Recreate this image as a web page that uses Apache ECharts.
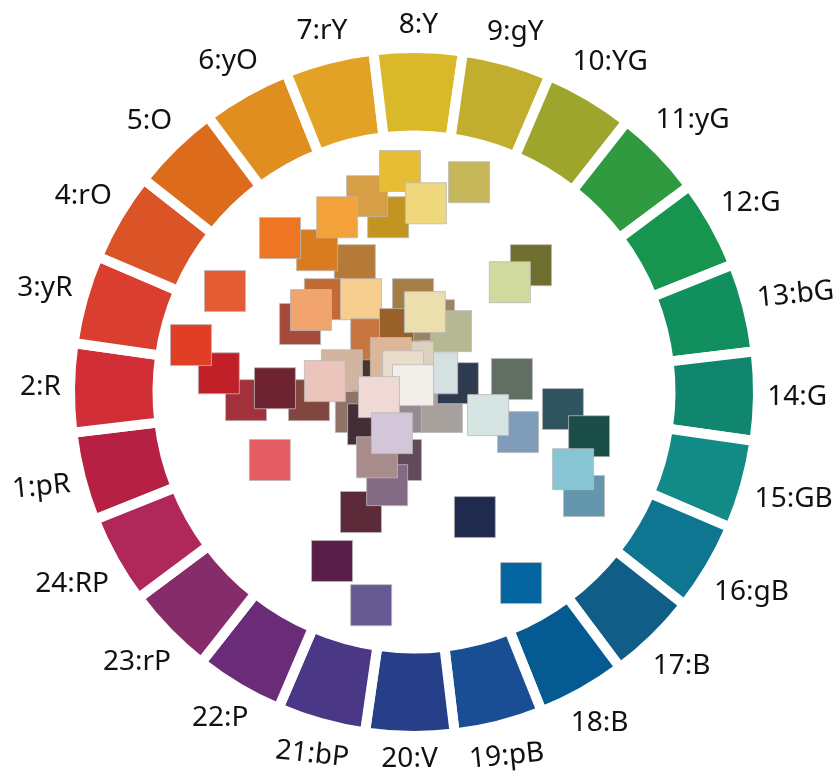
<!DOCTYPE html>
<html><head><meta charset="utf-8">
<script src="https://cdn.jsdelivr.net/npm/echarts@6/dist/echarts.min.js"></script>
<style>html,body{margin:0;padding:0;background:#fff}#c{width:834px;height:778px}</style>
</head><body><div id="c"></div>
<script>
// Hue ring segments
const segNames = ['1:pR','2:R','3:yR','4:rO','5:O','6:yO','7:rY','8:Y','9:gY','10:YG','11:yG','12:G',
  '13:bG','14:G','15:GB','16:gB','17:B','18:B','19:pB','20:V','21:bP','22:P','23:rP','24:RP'];
const segColors = ['#B62042','#D12E37','#D93E2F','#DA5427','#DC6C1C','#E08E20','#E2A225','#D9B82A',
  '#C2AE2E','#9DA52C','#2F9A40','#17954E','#128F5F','#11866F','#128B87','#0F7691','#105E87','#055B91',
  '#1A4E94','#273F89','#4A3785','#6A2B79','#862C6A','#B0285A'];
const segValues = [1,1,1,1,1,1,1,1,1,1,1,1,1,1,1,1,1,1,1,1,1,1,1,1];

// Colour samples (plane coordinates, ring outer radius = 100)
const squareX = [-12.4,-17.4,-28.5,-39.4,-7.6,-13.8,-22.6,-4.1,3.5,16.2,
  -26.2,-15.6,-33.5,-30.3,-55.6,
  -0.3,-12.6,-4.1,5.9,10.9,3.2,
  -17.1,-3.5,8.2,12.9,6.8,-0.3,-6.8,-21.2,-3.2,-0.3,-13.5,-10.3,-3.8,-15.6,-7.9,-10.9,-6.5,-30.9,-26.2,
  -49.4,-57.4,-65.6,-40.9,-42.4,
  34.4,28.2,28.8,30.6,21.8,43.8,51.5,50.0,46.8,17.9,-24.1,-12.6,31.5];
const squareY = [5.8,37.3,41.7,45.3,51.4,57.6,51.4,65.0,55.5,61.7,
  27.3,27.3,20.0,24.1,29.7,
  27.3,15.5,18.5,21.1,17.9,23.5,
  -5.9,-5.9,-5.9,2.6,5.5,8.8,10.0,6.4,6.1,2.0,-9.5,-1.5,-20.0,-35.3,-27.4,-19.2,-12.1,-2.4,3.2,
  -2.4,5.5,13.8,1.1,-20.0,
  37.3,32.3,3.8,-11.8,-6.8,-5.0,-13.0,-30.6,-22.7,-36.8,-49.7,-62.7,-56.2];
const squareColors = ['#4A3328','#B57A38','#D97B1F','#EE7623','#C1951F','#D69E45','#F3A13A','#E5BE36','#EFD77E','#C6B85A',
  '#C36A35','#F7CE90','#A84A3A','#F2A46E','#E55C34',
  '#A47E47','#C87641','#98612A','#9A8462','#B6B893','#EBDFAE',
  '#8E7369','#968B92','#A7A19E','#2E3A50','#D5E0E0','#DDD2C0','#DDB69A','#D3B4A0','#EADCCB','#F2EEE9','#452D38','#EFD9D4','#624A5A','#5C2A38','#846B84','#A88C8C','#D3C6D8','#81473F','#EBC4BB',
  '#A3313C','#C22029','#E03F26','#6E2430','#E45C64',
  '#6E6E2F','#D0D99E','#606E64','#7F9DB9','#D6E4E2','#30545F','#1A4D48','#6497AE','#87C4D4','#202A4E','#5A1F48','#675A93','#0565A0'];

// labels that are drawn slightly tilted along the ring
const tiltedLabels = ['1:pR', '13:bG', '19:pB', '21:bP'];

const CX = 414, CY = 392, R_OUT = 339, R_IN = 261.5, GAP = 10, PLANE = 340;
const START = 201.8, STEP = 360 / segNames.length;
const chart = echarts.init(document.getElementById('c'), null, {renderer: 'canvas'});
chart.setOption({
  animation: false,
  backgroundColor: '#fff',
  grid: {left: CX - PLANE, top: CY - PLANE, width: 2 * PLANE, height: 2 * PLANE},
  xAxis: {type: 'value', min: -100, max: 100, show: false},
  yAxis: {type: 'value', min: -100, max: 100, show: false},
  series: [
    {
      type: 'pie', silent: true, center: [CX, CY], radius: [R_IN - GAP / 2, R_OUT + GAP / 2],
      startAngle: START, clockwise: true, avoidLabelOverlap: false,
      label: {show: true, position: 'outside', color: '#111', fontSize: 28, fontFamily: 'Noto Sans', formatter: '{b}'},
      labelLine: {show: false, length: 10, length2: 0},
      labelLayout: function (p) {
        const deg = START - STEP * p.dataIndex - STEP / 2;
        const a = deg * Math.PI / 180;
        const w = p.labelRect.width, h = p.labelRect.height;
        const ext = Math.abs(Math.cos(a)) * w / 2 + Math.abs(Math.sin(a)) * h / 2;
        const rho = R_OUT + 14 + ext;
        const d = deg - 90 * Math.round(deg / 90);
        const rot = tiltedLabels.indexOf(segNames[p.dataIndex]) >= 0 ? 0.4 * d : 0;
        return {x: CX + rho * Math.cos(a), y: CY - rho * Math.sin(a), align: 'center', verticalAlign: 'middle', rotate: rot};
      },
      itemStyle: {borderColor: '#fff', borderWidth: GAP},
      data: segValues.map((v, i) => ({name: segNames[i], value: v, itemStyle: {color: segColors[i]}}))
    },
    {
      type: 'scatter', symbol: 'rect', symbolSize: 41, silent: true,
      itemStyle: {borderColor: 'rgba(185,185,185,0.8)', borderWidth: 1, opacity: 1},
      data: squareX.map((x, i) => ({value: [x, squareY[i]], itemStyle: {color: squareColors[i]}}))
    }
  ]
});
</script></body></html>
